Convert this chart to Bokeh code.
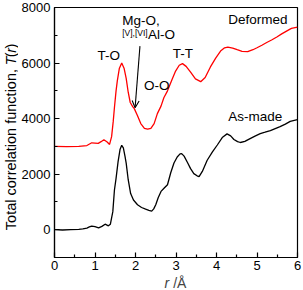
from bokeh.plotting import figure
from bokeh.models import Range1d, FixedTicker, Label, Arrow, OpenHead
from bokeh.layouts import row, column
from bokeh.embed import file_html
from bokeh.resources import INLINE
import math

# ---- data ----
r_asmade = [0.0, 0.2, 0.4, 0.6, 0.7, 0.8, 0.86, 0.92, 1.0, 1.09, 1.17, 1.25, 1.33, 1.38, 1.44, 1.48,
            1.52, 1.57, 1.62, 1.66, 1.70, 1.74, 1.77, 1.82, 1.88, 1.95, 2.05, 2.15, 2.25, 2.33, 2.40,
            2.45, 2.50, 2.56, 2.63, 2.71, 2.79, 2.87, 2.95, 3.03, 3.10, 3.14, 3.20, 3.28, 3.36, 3.44,
            3.52, 3.57, 3.65, 3.77, 3.90, 4.02, 4.15, 4.26, 4.35, 4.43, 4.52, 4.59, 4.70, 4.83, 4.95,
            5.08, 5.20, 5.33, 5.45, 5.57, 5.70, 5.82, 5.92, 6.0]
t_asmade = [0, -10, 0, 10, 30, 60, 100, 130, 110, 70, 120, 200, 140, 200, 650, 1430,
            1850, 2450, 2900, 3040, 2950, 2650, 2400, 1800, 1300, 1070, 900, 800, 740, 700, 670,
            750, 900, 1150, 1380, 1500, 1620, 2050, 2400, 2620, 2730, 2740, 2650, 2430, 2200, 2020,
            1940, 1910, 2100, 2500, 2800, 3050, 3330, 3450, 3380, 3250, 3170, 3140, 3180, 3280, 3370,
            3460, 3510, 3570, 3640, 3710, 3800, 3900, 3940, 3960]

r_deformed = [0.0, 0.3, 0.6, 0.8, 0.92, 1.0, 1.08, 1.15, 1.22, 1.30, 1.36, 1.41, 1.45, 1.48, 1.52,
              1.55, 1.60, 1.66, 1.72, 1.77, 1.82, 1.87, 1.93, 1.97, 2.05, 2.13, 2.22, 2.30, 2.38,
              2.46, 2.54, 2.63, 2.70, 2.79, 2.90, 2.99, 3.08, 3.16, 3.25, 3.36, 3.48, 3.61, 3.72,
              3.85, 3.98, 4.10, 4.20, 4.28, 4.40, 4.51, 4.63, 4.77, 4.90, 5.0, 5.12, 5.24, 5.36,
              5.49, 5.61, 5.74, 5.85, 6.0]
t_deformed = [3000, 2990, 3000, 3030, 3130, 3120, 3110, 3170, 3240, 3160, 3070, 3350, 3900, 4400, 5000,
              5350, 5800, 6000, 5800, 5450, 4950, 4580, 4430, 4360, 4100, 3820, 3650, 3620, 3650,
              3820, 4180, 4450, 4750, 5000, 5400, 5710, 5920, 5980, 5880, 5670, 5430, 5330, 5480,
              5860, 6180, 6430, 6550, 6575, 6540, 6480, 6420, 6410, 6480, 6550, 6640, 6740, 6830,
              6940, 7050, 7160, 7250, 7290]

x_ticks = [0, 1, 2, 3, 4, 5, 6]
x_minor = [0.5, 1.5, 2.5, 3.5, 4.5, 5.5]
y_ticks = [0, 2000, 4000, 6000, 8000]
y_minor = [-1000, 1000, 3000, 5000, 7000]

series_labels = ["Deformed", "As-made"]
peak_labels = ["T-O", "Mg-O,", "O-O", "T-T"]

FONT = "Liberation Sans"

# ---- main plot ----
p = figure(width=285, height=274, output_backend="svg", toolbar_location=None,
           x_range=Range1d(0, 6), y_range=Range1d(-1000, 8000),
           min_border_left=35, min_border_right=6, min_border_top=7, min_border_bottom=17)
p.background_fill_color = "white"
p.border_fill_color = "white"
p.grid.visible = False
p.outline_line_color = "black"
p.outline_line_width = 1.2

p.line(r_deformed, t_deformed, line_color="#ff0000", line_width=1.3)
p.line(r_asmade, t_asmade, line_color="black", line_width=1.3)

for ax in (p.xaxis[0], p.yaxis[0]):
    ax.axis_line_width = 1.2
    ax.major_tick_in = 5
    ax.major_tick_out = 0
    ax.minor_tick_in = 3
    ax.minor_tick_out = 0
    ax.major_tick_line_width = 1.2
    ax.minor_tick_line_width = 1.2
    ax.major_label_text_font = FONT
    ax.major_label_text_font_size = "13px"
    ax.major_label_text_color = "black"
p.xaxis[0].major_label_standoff = 3
p.yaxis[0].major_label_standoff = 4

p.xaxis[0].ticker = FixedTicker(ticks=x_ticks, minor_ticks=x_minor)
p.yaxis[0].ticker = FixedTicker(ticks=y_ticks, minor_ticks=y_minor)

def ann(x, y, text, size="13.5px"):
    p.add_layout(Label(x=x, y=y, text=text, text_font=FONT, text_font_size=size,
                       text_align="left", text_baseline="middle", text_color="black"))

ann(4.29, 7570, series_labels[0])
ann(4.29, 4070, series_labels[1])
ann(1.06, 6290, peak_labels[0])
ann(1.67, 7540, peak_labels[1])
ann(1.67, 7090, "[V],[VI]", size="8.5px")
ann(2.31, 7040, "Al-O")
ann(2.21, 5180, peak_labels[2])
ann(2.92, 6340, peak_labels[3])

p.add_layout(Arrow(end=OpenHead(size=7, line_width=1.1, line_color="black"),
                   x_start=2.11, y_start=6610, x_end=1.99, y_end=4390,
                   line_width=1.1, line_color="black"))

# ---- strips for axis titles (mixed italic) ----
def strip(w, h):
    f = figure(width=w, height=h, output_backend="svg", toolbar_location=None,
               x_range=Range1d(0, w), y_range=Range1d(0, h),
               x_axis_location=None, y_axis_location=None,
               min_border_left=0, min_border_right=0, min_border_top=0, min_border_bottom=0)
    f.grid.visible = False
    f.outline_line_color = None
    f.background_fill_color = "white"
    f.border_fill_color = "white"
    return f

yfig = strip(18, 274)
fs_y = 14.5
w_T = 0.611 * fs_y
w_par = 0.333 * fs_y
w_sp = 0.278 * fs_y
y_T = 274 - 40 - (w_T + 3 * w_par)   # where the italic T starts
common = dict(angle=math.pi / 2, text_font=FONT, text_font_size=f"{fs_y}px",
              text_baseline="middle", text_color="black")
yfig.add_layout(Label(x=10, y=y_T - w_sp, text="Total correlation function,",
                      text_align="right", **common))
yfig.add_layout(Label(x=10, y=y_T, text="T", text_font_style="italic", text_align="left", **common))
yfig.add_layout(Label(x=10, y=y_T + w_T, text="(", text_align="left", **common))
yfig.add_layout(Label(x=10, y=y_T + w_T + w_par, text="r", text_font_style="italic",
                      text_align="left", **common))
yfig.add_layout(Label(x=10, y=y_T + w_T + 2 * w_par, text=")", text_align="left", **common))

xfig = strip(303, 16)
fs_x = 14
x_center = (53 + 297) / 2
w_r = 0.333 * fs_x
w_sx = 0.278 * fs_x
w_rest = (0.278 + 0.667) * fs_x
x0 = x_center - (w_r + w_sx + w_rest) / 2
xfig.add_layout(Label(x=x0, y=8, text="r", text_font=FONT, text_font_size=f"{fs_x}px",
                      text_font_style="italic", text_align="left", text_baseline="middle"))
xfig.add_layout(Label(x=x0 + w_r + w_sx, y=8, text="/Å", text_font=FONT, text_font_size=f"{fs_x}px",
                      text_align="left", text_baseline="middle"))

layout = column(row(yfig, p, spacing=0), xfig, spacing=0)

open("out.html", "w").write(file_html(layout, INLINE))
